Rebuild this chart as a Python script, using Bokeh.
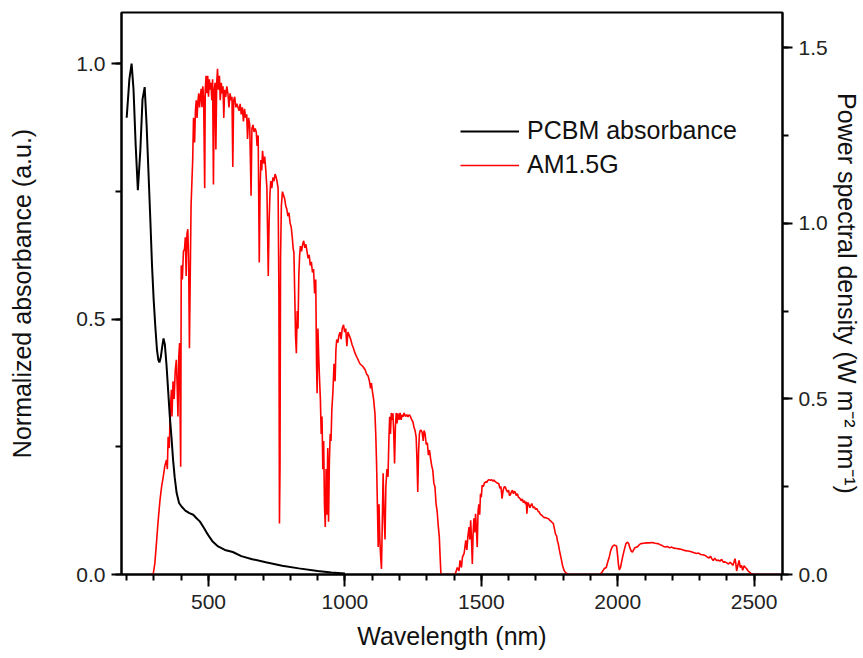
from bokeh.plotting import figure
from bokeh.models import (Range1d, LinearAxis, SingleIntervalTicker, Legend, LegendItem,
                          PrintfTickFormatter)
from bokeh.embed import file_html
from bokeh.resources import INLINE

# ---------------- data ----------------
pcbm_wl = [200, 210, 218, 225, 233, 241, 250, 258, 266, 273, 280, 287, 293, 299, 305, 311, 316,
           320, 325, 330, 335, 340, 346, 352, 358, 364, 370, 376, 383, 392, 401, 415, 430, 444,
           456, 468, 480, 492, 504, 516, 535, 560, 589, 620, 660, 710, 770, 831, 900, 950, 1000]
pcbm_abs = [0.894, 0.97, 1.0, 0.95, 0.84, 0.752, 0.83, 0.93, 0.954, 0.88, 0.786, 0.69, 0.603,
            0.537, 0.485, 0.44, 0.42, 0.415, 0.425, 0.445, 0.462, 0.45, 0.41, 0.36, 0.31, 0.27,
            0.225, 0.19, 0.16, 0.14, 0.133, 0.125, 0.12, 0.117, 0.11, 0.104, 0.094, 0.083, 0.073,
            0.064, 0.055, 0.048, 0.044, 0.036, 0.03, 0.024, 0.017, 0.012, 0.007, 0.004, 0.002]

am_wl = [280, 290, 297, 303, 309, 315, 322, 328, 334, 340, 346, 349, 352, 356, 360, 364, 366, 370,
         374, 378, 382, 385, 388, 391, 394, 396, 398, 400, 404, 408, 412, 415, 418, 421, 424, 427,
         430, 433, 436, 439, 442, 445, 449, 452, 455, 458, 461, 464, 467, 470, 473, 476, 479, 482,
         486, 488, 491, 494, 497, 500, 503, 506, 509, 512, 515, 518, 521, 524, 527, 530, 533, 536,
         540, 543, 547, 550, 553, 556, 559, 563, 567, 571, 575, 579, 583, 586, 589, 592, 596, 600,
         604, 608, 612, 616, 620, 624, 628, 632, 636, 640, 643, 647, 651, 656, 659, 663, 667, 671,
         675, 678, 682, 686, 689, 692, 695, 698, 702, 706, 710, 714, 717, 719, 722, 725, 728, 732,
         736, 740, 744, 747, 751, 755, 758, 760, 762, 764, 767, 771, 775, 779, 783, 787, 791, 795,
         799, 803, 807, 810, 813, 816, 819, 822, 825, 828, 831, 834, 837, 841, 845, 849, 853, 857,
         861, 865, 869, 873, 877, 881, 885, 889, 893, 896, 898, 901, 904, 907, 910, 913, 916, 919,
         922, 925, 928, 931, 934, 937, 940, 943, 946, 949, 952, 956, 960, 964, 967, 970, 974, 978,
         982, 986, 990, 995, 999, 1003, 1007, 1011, 1016, 1021, 1026, 1031, 1037, 1043, 1049, 1055,
         1062, 1068, 1074, 1080, 1085, 1090, 1094, 1097, 1101, 1105, 1110, 1113, 1116, 1119, 1122,
         1125, 1128, 1131, 1134, 1137, 1140, 1143, 1147, 1150, 1154, 1158, 1161, 1164, 1167, 1170,
         1173, 1176, 1179, 1182, 1185, 1188, 1191, 1194, 1198, 1202, 1206, 1210, 1213, 1217, 1222,
         1227, 1231, 1236, 1240, 1245, 1249, 1253, 1257, 1261, 1264, 1267, 1270, 1273, 1276, 1279,
         1283, 1287, 1290, 1294, 1298, 1302, 1306, 1310, 1314, 1318, 1322, 1326, 1330, 1334, 1338,
         1342, 1346, 1349, 1352, 1360, 1380, 1400, 1406, 1412, 1418, 1422, 1427, 1431, 1437, 1443,
         1447, 1451, 1455, 1458, 1461, 1464, 1467, 1470, 1473, 1476, 1479, 1482, 1485, 1488, 1491,
         1494, 1497, 1500, 1503, 1507, 1511, 1516, 1520, 1524, 1528, 1533, 1538, 1542, 1546, 1550,
         1555, 1560, 1564, 1568, 1572, 1576, 1580, 1584, 1588, 1592, 1596, 1600, 1603, 1606, 1610,
         1614, 1618, 1621, 1624, 1628, 1632, 1636, 1640, 1642, 1646, 1650, 1654, 1658, 1662, 1665,
         1667, 1670, 1674, 1678, 1681, 1685, 1690, 1695, 1699, 1703, 1708, 1712, 1716, 1721, 1726,
         1731, 1736, 1741, 1746, 1750, 1755, 1760, 1764, 1768, 1772, 1776, 1779, 1782, 1786, 1790,
         1794, 1798, 1803, 1808, 1812, 1820, 1900, 1934, 1942, 1951, 1958, 1963, 1969, 1975, 1981,
         1987, 1993, 1996, 2000, 2003, 2006, 2010, 2014, 2018, 2024, 2030, 2036, 2040, 2045, 2050,
         2054, 2058, 2063, 2068, 2073, 2079, 2085, 2095, 2105, 2115, 2127, 2137, 2147, 2155, 2162,
         2168, 2175, 2182, 2190, 2198, 2206, 2215, 2224, 2232, 2240, 2248, 2256, 2264, 2272, 2280,
         2288, 2296, 2304, 2312, 2321, 2328, 2335, 2340, 2345, 2350, 2356, 2362, 2369, 2375, 2381,
         2387, 2393, 2400, 2406, 2412, 2417, 2422, 2426, 2430, 2433, 2436, 2440, 2445, 2449, 2454,
         2458, 2463, 2468, 2472, 2478, 2484, 2490, 2500, 2550, 2600]
am_psd = [0.0, 0.0, 0.0, 0.03, 0.088, 0.15, 0.211, 0.25, 0.278, 0.31, 0.326, 0.30, 0.392, 0.36,
          0.47, 0.526, 0.45, 0.55, 0.50, 0.58, 0.611, 0.54, 0.45, 0.62, 0.659, 0.45, 0.307, 0.88,
          0.84, 0.92, 0.926, 0.96, 0.85, 0.97, 0.983, 0.90, 0.644, 0.85, 1.05, 1.116, 1.18, 1.30,
          1.23, 1.32, 1.35, 1.30, 1.345, 1.37, 1.33, 1.36, 1.383, 1.33, 1.39, 1.36, 1.10, 1.38,
          1.42, 1.37, 1.42, 1.36, 1.41, 1.38, 1.40, 1.35, 1.41, 1.11, 1.38, 1.40, 1.21, 1.40, 1.44,
          1.38, 1.42, 1.35, 1.40, 1.37, 1.39, 1.30, 1.38, 1.36, 1.39, 1.37, 1.33, 1.37, 1.35, 1.36,
          1.16, 1.35, 1.36, 1.33, 1.34, 1.33, 1.32, 1.34, 1.31, 1.33, 1.29, 1.326, 1.30, 1.31, 1.24,
          1.30, 1.28, 1.078, 1.27, 1.28, 1.26, 1.27, 1.26, 1.22, 1.25, 0.888, 1.10, 1.18, 1.15,
          1.206, 1.17, 1.19, 1.15, 1.10, 0.95, 0.85, 1.00, 1.08, 1.12, 1.10, 1.13, 1.12, 1.14,
          1.134, 1.12, 1.10, 0.80, 0.145, 0.30, 0.90, 1.05, 1.09, 1.08, 1.07, 1.05, 1.04, 1.02,
          1.03, 1.00, 0.99, 0.96, 0.93, 0.916, 0.80, 0.68, 0.63, 0.75, 0.70, 0.85, 0.91, 0.935,
          0.92, 0.94, 0.95, 0.93, 0.94, 0.92, 0.90, 0.91, 0.88, 0.89, 0.86, 0.87, 0.80, 0.84, 0.60,
          0.516, 0.70, 0.62, 0.554, 0.50, 0.40, 0.45, 0.30, 0.38, 0.20, 0.135, 0.30, 0.17, 0.36,
          0.15, 0.32, 0.40, 0.38, 0.469, 0.52, 0.60, 0.55, 0.64, 0.669, 0.66, 0.68, 0.69, 0.67,
          0.70, 0.711, 0.69, 0.70, 0.65, 0.69, 0.68, 0.67, 0.655, 0.645, 0.63, 0.62, 0.61, 0.60,
          0.595, 0.59, 0.583, 0.57, 0.565, 0.55, 0.53, 0.545, 0.52, 0.50, 0.459, 0.40, 0.316, 0.20,
          0.078, 0.20, 0.10, 0.05, 0.016, 0.15, 0.288, 0.18, 0.10, 0.25, 0.30, 0.278, 0.38, 0.449,
          0.40, 0.46, 0.44, 0.459, 0.40, 0.316, 0.42, 0.46, 0.43, 0.459, 0.44, 0.46, 0.44, 0.455,
          0.449, 0.46, 0.45, 0.455, 0.449, 0.455, 0.45, 0.44, 0.435, 0.42, 0.41, 0.392, 0.33, 0.235,
          0.35, 0.40, 0.41, 0.411, 0.405, 0.38, 0.41, 0.40, 0.37, 0.375, 0.34, 0.354, 0.33, 0.31,
          0.297, 0.26, 0.25, 0.202, 0.18, 0.14, 0.107, 0.05, 0.0, 0.0, 0.0, 0.0, 0.005, 0.02, 0.01,
          0.04, 0.02, 0.05, 0.06, 0.097, 0.07, 0.11, 0.135, 0.10, 0.154, 0.10, 0.03, 0.12, 0.16,
          0.12, 0.173, 0.13, 0.078, 0.18, 0.20, 0.17, 0.23, 0.22, 0.254, 0.25, 0.26, 0.264, 0.262,
          0.268, 0.27, 0.268, 0.27, 0.266, 0.269, 0.265, 0.262, 0.26, 0.259, 0.245, 0.25, 0.216,
          0.24, 0.25, 0.249, 0.24, 0.235, 0.24, 0.225, 0.226, 0.235, 0.24, 0.23, 0.236, 0.235,
          0.225, 0.23, 0.22, 0.218, 0.216, 0.21, 0.215, 0.205, 0.21, 0.20, 0.207, 0.173, 0.205,
          0.20, 0.19, 0.196, 0.202, 0.19, 0.192, 0.185, 0.188, 0.18, 0.178, 0.172, 0.169, 0.165,
          0.162, 0.162, 0.16, 0.159, 0.155, 0.152, 0.148, 0.145, 0.13, 0.115, 0.11, 0.095, 0.088,
          0.07, 0.055, 0.04, 0.025, 0.012, 0.006, 0.004, 0.0, 0.0, 0.0, 0.006, 0.017, 0.02, 0.035,
          0.05, 0.07, 0.08, 0.084, 0.082, 0.08, 0.05, 0.025, 0.013, 0.02, 0.035, 0.05, 0.07, 0.088,
          0.092, 0.088, 0.075, 0.066, 0.064, 0.07, 0.076, 0.078, 0.079, 0.085, 0.088, 0.089, 0.09,
          0.09, 0.091, 0.089, 0.088, 0.085, 0.083, 0.08, 0.078, 0.08, 0.076, 0.078, 0.075, 0.074,
          0.073, 0.072, 0.07, 0.068, 0.067, 0.066, 0.064, 0.062, 0.06, 0.061, 0.057, 0.056, 0.054,
          0.05, 0.047, 0.052, 0.045, 0.04, 0.046, 0.04, 0.041, 0.038, 0.043, 0.035, 0.036, 0.033,
          0.03, 0.035, 0.031, 0.026, 0.035, 0.045, 0.03, 0.01, 0.025, 0.04, 0.02, 0.026, 0.012,
          0.025, 0.02, 0.017, 0.01, 0.006, 0.002, 0.0, 0.0, 0.0]

x_label = "Wavelength (nm)"
y_left_label = "Normalized absorbance (a.u.)"
y_right_label = "Power spectral density (W m\u207b\u00b2 nm\u207b\u00b9)"
series_names = ["PCBM absorbance", "AM1.5G"]

FONT = "Liberation Sans"

p = figure(width=863, height=658, output_backend="svg", toolbar_location=None,
           x_range=Range1d(181, 2604), y_range=Range1d(0, 1.1),
           min_border_left=121, min_border_right=75, min_border_top=12, min_border_bottom=84)
p.extra_y_ranges = {"psd": Range1d(0, 1.6)}
p.xgrid.visible = False
p.ygrid.visible = False
p.outline_line_color = "black"
p.outline_line_width = 2
p.background_fill_color = "white"
p.border_fill_color = "white"

red = p.line(am_wl, am_psd, line_color="#ff0000", line_width=1.6, y_range_name="psd")
blk = p.line(pcbm_wl, pcbm_abs, line_color="black", line_width=2)

right_axis = LinearAxis(y_range_name="psd")
p.add_layout(right_axis, "right")

def style(ax, label, interval, minor, label_standoff, tick_out, tick_standoff, label_size):
    ax.ticker = SingleIntervalTicker(interval=interval, num_minor_ticks=minor)
    ax.axis_label = label
    ax.axis_line_color = "black"
    ax.axis_line_width = 2
    ax.major_tick_line_color = "black"
    ax.major_tick_line_width = 2
    ax.minor_tick_line_color = "black"
    ax.minor_tick_line_width = 2
    ax.major_tick_out = tick_out
    ax.major_tick_in = 0
    ax.minor_tick_out = 6
    ax.minor_tick_in = 0
    ax.major_label_text_font = FONT
    ax.major_label_text_font_size = "21px"
    ax.major_label_text_color = "#222222"
    ax.major_label_standoff = tick_standoff
    ax.axis_label_text_font = FONT
    ax.axis_label_text_font_size = label_size
    ax.axis_label_text_font_style = "normal"
    ax.axis_label_text_color = "#111111"
    ax.axis_label_standoff = label_standoff

style(p.xaxis[0], x_label, 500, 5, 10, 12, 8, "25px")
style(p.yaxis[0], y_left_label, 0.5, 2, 37, 10, 6, "25px")
style(right_axis, y_right_label, 0.5, 2, 2, 10, 6, "25px")
p.yaxis[0].formatter = PrintfTickFormatter(format="%.1f")
right_axis.formatter = PrintfTickFormatter(format="%.1f")

legend = Legend(items=[LegendItem(label=series_names[0], renderers=[blk]),
                       LegendItem(label=series_names[1], renderers=[red])],
                location=(339, 395))
legend.border_line_color = None
legend.background_fill_alpha = 0
legend.label_text_font = FONT
legend.label_text_font_size = "25px"
legend.label_text_color = "#111111"
legend.glyph_width = 59
legend.glyph_height = 20
legend.label_height = 20
legend.label_standoff = 8
legend.spacing = 5
legend.padding = 0
legend.margin = 0
p.add_layout(legend, "center")

open("out.html", "w").write(file_html(p, INLINE))
